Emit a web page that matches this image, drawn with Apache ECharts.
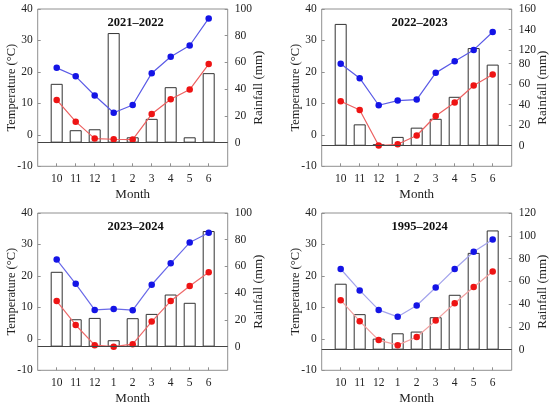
<!DOCTYPE html>
<html>
<head>
<meta charset="utf-8">
<script src="https://cdn.jsdelivr.net/npm/echarts@6/dist/echarts.min.js"></script>
<style>
html,body{margin:0;padding:0;background:#fff;}
#c{width:550px;height:408px;}
</style>
</head>
<body>
<div id="c"></div>
<script>
const months = ['10','11','12','1','2','3','4','5','6'];
const titles = ['2021\u20132022','2022\u20132023','2023\u20132024','1995\u20132024'];

const tmax2122 = [21.3,18.6,12.5,7.0,9.5,19.6,24.8,28.4,37.0];
const tmin2122 = [11.1,4.2,-1.2,-1.4,-1.5,6.6,11.3,14.4,22.5];
const rain2122 = [44,9.3,10,82,4,17.8,41.5,4,52];

const tmax2223 = [22.6,18.0,9.4,10.9,11.2,19.7,23.4,27.0,32.7];
const tmin2223 = [10.7,7.9,-3.4,-3.0,-0.2,6.0,10.3,15.7,19.2];
const rain2223 = [145.5,20.8,1.5,8.6,17.6,26.2,47.6,122,78.9];

const tmax2324 = [25.2,17.5,9.2,9.5,9.1,17.2,24.0,30.6,33.7];
const tmin2324 = [12.0,4.4,-2.0,-2.5,-1.7,5.5,12.0,16.8,21.2];
const rain2324 = [56,20.5,21.5,4.8,21.3,24.5,39,32.8,86.5];

const tmax9524 = [22.2,15.4,9.2,7.0,10.6,16.3,22.2,27.7,31.6];
const tmin9524 = [12.3,5.6,-0.4,-2.0,0.6,5.8,11.3,16.5,21.4];
const rain9524 = [57.9,31.2,9.7,14.4,15.9,28.5,48.2,85,104.7];

const rainTicks1 = [0,20,40,60,80,100];
const rainTicks2 = [0,20,40,60,80,120,140,160];
const rainTicks3 = [0,20,40,60,80,100];
const rainTicks4 = [0,20,40,60,80,100,120];

const FONT = 'Liberation Serif';
const TXT = '#222';
const FRAME = '#909090';

const panels = [
  {tmax: tmax2122, tmin: tmin2122, rain: rain2122, ticks: rainTicks1, rmin: -17.7, rmax: 100,
   blueLine: '#5a5ae6', redLine: '#ec6060',
   grid: {left: 37.7, right: 322.3, top: 9, bottom: 241.7}},
  {tmax: tmax2223, tmin: tmin2223, rain: rain2223, ticks: rainTicks2, rmin: -20, rmax: 160,
   blueLine: '#5a5ae6', redLine: '#ec6060',
   breaks: [{start: 86, end: 116, gap: 3}],
   grid: {left: 321.7, right: 38.3, top: 9, bottom: 241.7}},
  {tmax: tmax2324, tmin: tmin2324, rain: rain2324, ticks: rainTicks3, rmin: -17.7, rmax: 100,
   blueLine: '#6a6ae8', redLine: '#ee6a6a',
   grid: {left: 37.7, right: 322.3, top: 213, bottom: 37.7}},
  {tmax: tmax9524, tmin: tmin9524, rain: rain9524, ticks: rainTicks4, rmin: -18.1, rmax: 120,
   blueLine: '#a4a4ec', redLine: '#f2a0a0',
   grid: {left: 321.7, right: 38.3, top: 213, bottom: 37.7}}
];

const pad = a => [null, ...a, null];
const cats = ['', ...months, ''];

const grids = [], xAxes = [], yAxes = [], series = [], titleArr = [];
panels.forEach((p, i) => {
  grids.push(Object.assign({show: true, borderColor: FRAME, borderWidth: 1, backgroundColor: 'transparent', containLabel: false}, p.grid));
  const plotLeft = p.grid.left;
  const plotRight = 550 - p.grid.right;
  titleArr.push({
    text: titles[i],
    left: (plotLeft + plotRight) / 2 - 2,
    top: p.grid.top + 2,
    textAlign: 'center',
    textStyle: {fontFamily: FONT, fontSize: 12.5, fontWeight: 'bold', color: '#111'}
  });
  xAxes.push({
    gridIndex: i, type: 'category', data: cats, boundaryGap: false, position: 'bottom',
    axisLine: {show: false, onZero: false},
    axisTick: {show: true, inside: true, length: 3, lineStyle: {color: FRAME},
      interval: idx => idx > 0 && idx < cats.length - 1},
    axisLabel: {interval: 0, fontFamily: FONT, fontSize: 11.5, color: TXT, margin: 7},
    splitLine: {show: false},
    name: 'Month', nameLocation: 'middle', nameGap: 22, nameMoveOverlap: false,
    nameTextStyle: {fontFamily: FONT, fontSize: 13, color: TXT}
  });
  yAxes.push({
    gridIndex: i, type: 'value', min: -10, max: 40, interval: 10, position: 'left',
    axisLine: {show: false},
    axisTick: {show: true, inside: true, length: 3, lineStyle: {color: FRAME}},
    axisLabel: {fontFamily: FONT, fontSize: 11.5, color: TXT, margin: 5},
    splitLine: {show: false},
    name: 'Temperature (\u00B0C)', nameLocation: 'middle', nameGap: 19, nameRotate: 90,
    nameMoveOverlap: false,
    nameTextStyle: {fontFamily: FONT, fontSize: 12.5, color: TXT}
  });
  const ry = {
    gridIndex: i, type: 'value', min: p.rmin, max: p.rmax, position: 'right',
    axisLine: {show: false},
    axisTick: {show: true, inside: true, length: 3, lineStyle: {color: FRAME}, customValues: p.ticks},
    axisLabel: {fontFamily: FONT, fontSize: 11.5, color: TXT, margin: 7, customValues: p.ticks},
    splitLine: {show: false},
    name: 'Rainfall (mm)', nameLocation: 'middle', nameGap: 24, nameRotate: 90,
    nameMoveOverlap: false,
    nameTextStyle: {fontFamily: FONT, fontSize: 13, color: TXT}
  };
  if (p.breaks) {
    ry.breaks = p.breaks;
    ry.breakArea = {show: false};
  }
  yAxes.push(ry);
  series.push({
    type: 'bar', xAxisIndex: i, yAxisIndex: 2 * i + 1, data: pad(p.rain), barWidth: 12,
    itemStyle: {color: '#fff', borderColor: '#333', borderWidth: 1},
    z: 1,
    markLine: {silent: true, symbol: ['none', 'none'], label: {show: false},
      lineStyle: {color: '#444', width: 1, type: 'solid'}, data: [{yAxis: 0}]}
  });
  series.push({
    type: 'line', xAxisIndex: i, yAxisIndex: 2 * i, data: pad(p.tmax),
    symbol: 'circle', symbolSize: 6.5,
    itemStyle: {color: '#1414e6'}, lineStyle: {color: p.blueLine, width: 1.2}, z: 3
  });
  series.push({
    type: 'line', xAxisIndex: i, yAxisIndex: 2 * i, data: pad(p.tmin),
    symbol: 'circle', symbolSize: 6.5,
    itemStyle: {color: '#ee1414'}, lineStyle: {color: p.redLine, width: 1.2}, z: 3
  });
});

const chart = echarts.init(document.getElementById('c'), null, {renderer: 'canvas'});
chart.setOption({
  animation: false,
  backgroundColor: '#fff',
  title: titleArr,
  grid: grids,
  xAxis: xAxes,
  yAxis: yAxes,
  series: series
});
</script>
</body>
</html>
